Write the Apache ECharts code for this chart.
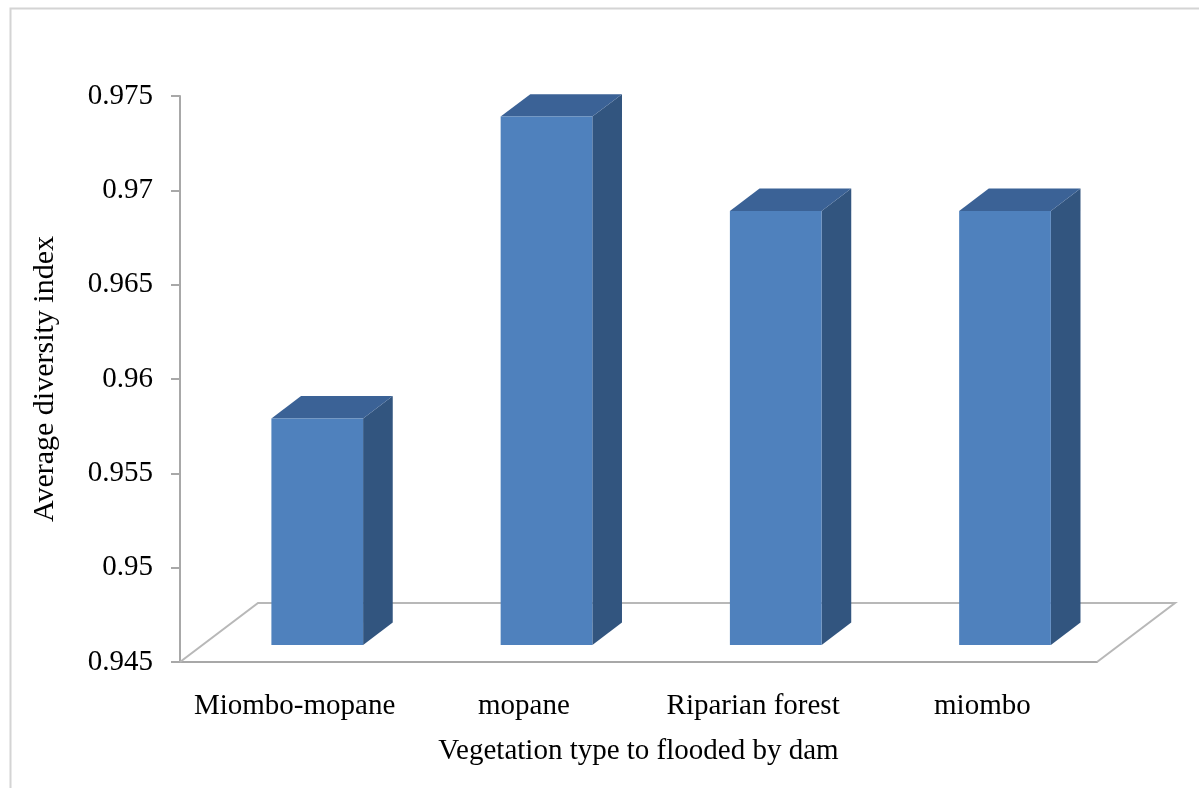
<!DOCTYPE html>
<html>
<head>
<meta charset="utf-8">
<script src="https://cdn.jsdelivr.net/npm/echarts@6/dist/echarts.min.js"></script>
<style>
  html, body { margin: 0; padding: 0; background: #fff; }
  #chart { width: 1199px; height: 788px; }
</style>
</head>
<body>
<div id="chart"></div>
<script>
// data
var categories = ['Miombo-mopane', 'mopane', 'Riparian forest', 'miombo'];
var diversity = [0.957, 0.973, 0.968, 0.968];
var yMin = 0.945, yMax = 0.975, yStep = 0.005;

// look of the fake 3D box
var DEPTH_X = 78, DEPTH_Y = -59;   // floor depth in px
var FRONT_AT = 0.29, BAR_DEPTH = 0.38;
var colFront = '#4f81bd', colSide = '#32557f', colTop = '#3b6296';
var serif = 'Liberation Serif';

let myChart = echarts.init(document.getElementById('chart'));

function renderBar(params, api) {
    let idx = api.value(0);
    let base = api.coord([idx, yMin]);
    let top = api.coord([idx, api.value(1)]);
    let w = api.size([1, 0])[0] * 0.4;
    let ox = DEPTH_X * FRONT_AT, oy = DEPTH_Y * FRONT_AT;
    let bx = DEPTH_X * BAR_DEPTH, by = DEPTH_Y * BAR_DEPTH;
    let x0 = base[0] - w / 2 + ox, x1 = x0 + w;
    let yb = base[1] + oy, yt = top[1] + oy;
    return {
        type: 'group',
        children: [
            { type: 'polygon', shape: { points: [[x1, yb], [x1 + bx, yb + by], [x1 + bx, yt + by], [x1, yt]] }, style: { fill: colSide } },
            { type: 'polygon', shape: { points: [[x0, yt], [x1, yt], [x1 + bx, yt + by], [x0 + bx, yt + by]] }, style: { fill: colTop } },
            { type: 'polygon', shape: { points: [[x0, yb], [x1, yb], [x1, yt], [x0, yt]] }, style: { fill: colFront } }
        ]
    };
}

// floor outline (back + side edges), front edge is the x axis itself
function renderFloor(params, api) {
    let cs = params.coordSys;
    let yb = cs.y + cs.height;
    return {
        type: 'polyline',
        shape: { points: [[cs.x, yb], [cs.x + DEPTH_X, yb + DEPTH_Y], [cs.x + cs.width + DEPTH_X, yb + DEPTH_Y], [cs.x + cs.width, yb]] },
        style: { stroke: '#b8b8b8', lineWidth: 2, fill: null }
    };
}

let option = {
    backgroundColor: '#fff',
    animation: false,
    graphic: [{
        type: 'rect',
        left: 8, top: 6,
        shape: { width: 1250, height: 820 },
        style: { fill: null, stroke: '#d4d4d4', lineWidth: 2 },
        silent: true
    }],
    grid: { left: 180, right: 102, top: 96, bottom: 126 },
    xAxis: {
        type: 'category',
        data: categories,
        name: 'Vegetation type to flooded by dam',
        nameLocation: 'middle',
        nameGap: 75,
        nameTextStyle: { fontFamily: serif, fontSize: 29, color: '#000' },
        axisLine: { lineStyle: { color: '#a8a8a8', width: 2 } },
        axisTick: { length: 9, lineStyle: { color: '#a8a8a8', width: 2 } },
        axisLabel: { interval: 0, margin: 30, fontFamily: serif, fontSize: 29, color: '#000' },
        splitLine: { show: false }
    },
    yAxis: {
        type: 'value',
        min: yMin,
        max: yMax,
        interval: yStep,
        name: 'Average diversity index',
        nameLocation: 'middle',
        nameGap: 120,
        nameRotate: 90,
        nameTextStyle: { fontFamily: serif, fontSize: 30, color: '#000' },
        axisLine: { show: true, lineStyle: { color: '#a8a8a8', width: 2 } },
        axisTick: { show: true, length: 9, lineStyle: { color: '#a8a8a8', width: 2 } },
        axisLabel: {
            margin: 27,
            fontFamily: serif, fontSize: 29, color: '#000',
            formatter: function (v) { return String(Number(v.toFixed(3))); }
        },
        splitLine: { show: false }
    },
    series: [
        {
            type: 'custom',
            renderItem: renderFloor,
            data: [[0, yMin]],
            z: 1,
            silent: true
        },
        {
            type: 'custom',
            renderItem: renderBar,
            data: diversity.map((v, i) => [i, v]),
            encode: { x: 0, y: 1 },
            z: 2
        }
    ]
};

myChart.setOption(option);
</script>
</body>
</html>
